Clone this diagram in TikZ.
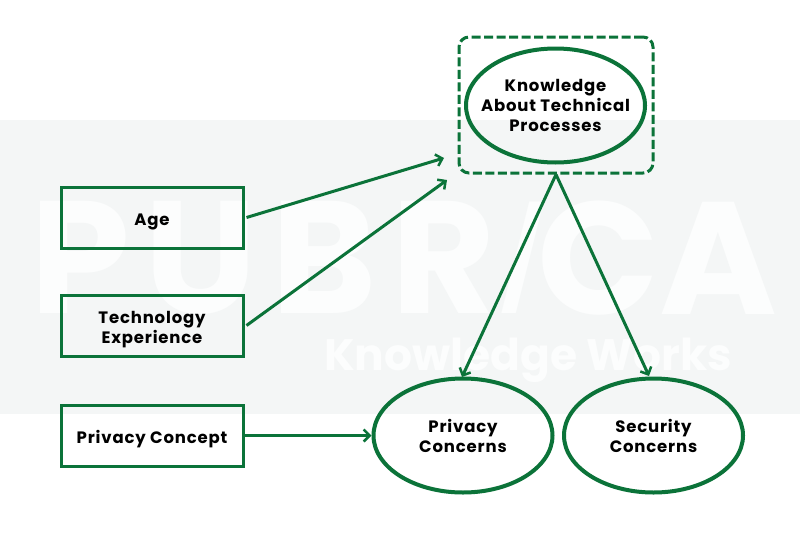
\documentclass[tikz,border=0pt]{standalone}
\usepackage{fontspec}
\setmainfont{Poppins}[LetterSpace=5]
\newfontfamily\wmfont{Poppins}[LetterSpace=9]
\newfontfamily\wmthin{Poppins}
\usetikzlibrary{arrows.meta,shapes.geometric}
\definecolor{gr}{HTML}{0B7339}
\definecolor{band}{HTML}{F4F6F6}
\definecolor{wm}{HTML}{FCFDFD}
\newcommand\lowered[1]{\raisebox{-4pt}[\height][\depth]{#1}}
\tikzset{
  x=1pt,y=-1pt,
  rectbox/.style={draw=gr,line width=3pt,minimum width=182pt,minimum height=61pt,inner sep=0pt,font=\fontsize{16.5}{20}\selectfont\bfseries,align=center},
  ell/.style={draw=gr,line width=4pt,ellipse,minimum width=179pt,minimum height=114pt,inner sep=-20pt,font=\fontsize{16.5}{20}\selectfont\bfseries,align=center},
  dashbox/.style={draw=gr,line width=3pt,rounded corners=10pt,dash pattern=on 9pt off 3.5pt,minimum width=194pt,minimum height=136pt,inner sep=0pt},
  conn/.style={draw=gr,line width=3pt,-{Straight Barb[length=6pt,width=12pt,line width=2.5pt]}},
  wmark/.style={text=wm,inner sep=0pt}
}
\begin{document}
\begin{tikzpicture}
\useasboundingbox (0,0) rectangle (800,533);
\fill[white] (0,0) rectangle (800,533);
\fill[band] (0,120) rectangle (800,414);
\node[wmark,font=\wmfont\fontsize{160}{160}\selectfont\bfseries] (wm1) at (263,258) {PUBR};
\node[wmark,font=\wmthin\fontsize{160}{160}\selectfont,xslant=0.25] (wmi) at (523,258) {I};
\node[wmark,font=\wmthin\fontsize{160}{160}\selectfont\bfseries] (wm3) at (657,258) {CA};
\node[wmark,font=\wmthin\fontsize{44}{44}\selectfont\bfseries] (wm2) at (528,360) {Knowledge Works};
\node[rectbox] (age) at (152,217.5) {\lowered{Age}};
\node[rectbox] (tech) at (152,325.5) {\lowered{Technology}\\\lowered{Experience}};
\node[rectbox] (pc) at (152,435.5) {\lowered{Privacy Concept}};
\node[dashbox] (kb) at (556,105) {};
\node[ell] (know) at (555.5,105.5) {Knowledge\\About Technical\\Processes};
\node[ell] (priv) at (463,435.5) {Privacy\\Concerns};
\node[ell] (sec) at (653.5,435.5) {Security\\Concerns};
\coordinate (a1) at (444,158);
\coordinate (a2) at (447,180);
\coordinate (a3) at (462,377);
\coordinate (a4) at (649,376);
\draw[conn] (age.east) ++(2,0) -- (a1);
\draw[conn] (tech.east) ++(2,0) -- (a2);
\draw[conn] (pc.east) -- (priv.west);
\draw[conn] (kb.south) -- (a3);
\draw[conn] (kb.south) -- (a4);
\end{tikzpicture}
\end{document}
